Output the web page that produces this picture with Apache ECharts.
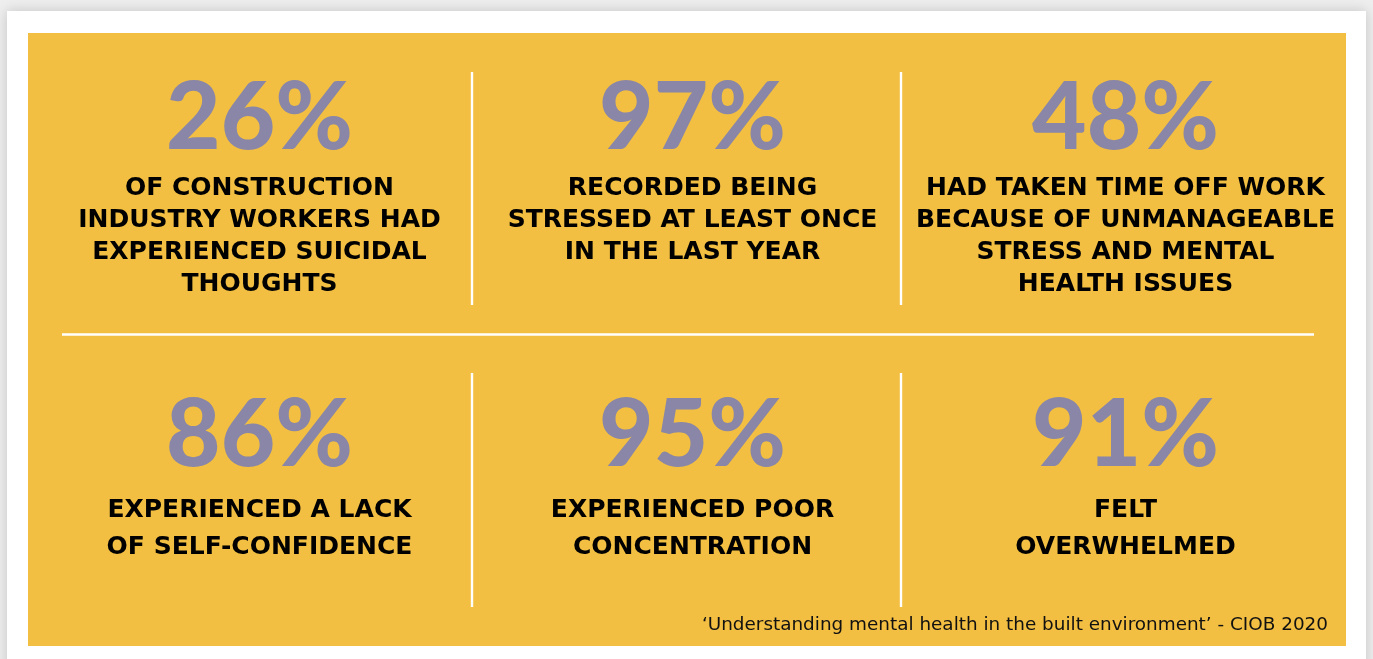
<!DOCTYPE html>
<html><head><meta charset="utf-8">
<script src="https://cdn.jsdelivr.net/npm/echarts@6/dist/echarts.min.js"></script>
<style>html,body{margin:0;padding:0;background:#eeeeee;}#c{width:1373px;height:659px;}</style>
</head><body><div id="c"></div>
<script>
// ---- data ----
const columns = ['left', 'middle', 'right'];
const values = [26, 97, 48, 86, 95, 91];
const valueColumn = [0, 1, 2, 0, 1, 2];
const valueRow = [0, 0, 0, 1, 1, 1];
const descriptions = [
  'OF CONSTRUCTION\nINDUSTRY WORKERS HAD\nEXPERIENCED SUICIDAL\nTHOUGHTS',
  'RECORDED BEING\nSTRESSED AT LEAST ONCE\nIN THE LAST YEAR',
  'HAD TAKEN TIME OFF WORK\nBECAUSE OF UNMANAGEABLE\nSTRESS AND MENTAL\nHEALTH ISSUES',
  'EXPERIENCED A LACK\nOF SELF-CONFIDENCE',
  'EXPERIENCED POOR\nCONCENTRATION',
  'FELT\nOVERWHELMED'
];
const sourceText = '\u2018Understanding mental health in the built environment\u2019 - CIOB 2020';

// ---- styles ----
const YELLOW = '#F2BF42';
const PURPLE = '#8986A7';
const rowStyle = [
  { lineHeight: 32, offsetY: 56 },
  { lineHeight: 37, offsetY: 58 }
];

const chart = echarts.init(document.getElementById('c'), null, { renderer: 'canvas' });

const numberData = values.map((v, i) => ({ value: [valueColumn[i], valueRow[i], v] }));
const descData = descriptions.map((d, i) => ({
  value: [valueColumn[i], valueRow[i], i],
  label: {
    lineHeight: rowStyle[valueRow[i]].lineHeight,
    offset: [0, rowStyle[valueRow[i]].offsetY]
  }
}));

const option = {
  backgroundColor: '#eeeeee',
  animation: false,
  grid: { left: 43, right: 31, top: 33, height: 612 },
  xAxis: { type: 'category', data: columns, show: false },
  yAxis: { type: 'value', min: -0.2633, max: 1.667, inverse: true, show: false },
  graphic: [
    { type: 'rect', z: 0, shape: { x: 7, y: 11, width: 1359, height: 660 },
      style: { fill: '#ffffff', shadowBlur: 12, shadowColor: 'rgba(0,0,0,0.18)' } },
    { type: 'rect', z: 1, shape: { x: 28, y: 33, width: 1318, height: 613 }, style: { fill: YELLOW } },
    { type: 'line', z: 2, shape: { x1: 472, y1: 72, x2: 472, y2: 305 }, style: { stroke: '#fff', lineWidth: 2.4 } },
    { type: 'line', z: 2, shape: { x1: 901, y1: 72, x2: 901, y2: 305 }, style: { stroke: '#fff', lineWidth: 2.4 } },
    { type: 'line', z: 2, shape: { x1: 62, y1: 334.5, x2: 1314, y2: 334.5 }, style: { stroke: '#fff', lineWidth: 2.4 } },
    { type: 'line', z: 2, shape: { x1: 472, y1: 373, x2: 472, y2: 607 }, style: { stroke: '#fff', lineWidth: 2.4 } },
    { type: 'line', z: 2, shape: { x1: 901, y1: 373, x2: 901, y2: 607 }, style: { stroke: '#fff', lineWidth: 2.4 } },
    { type: 'text', z: 3, x: 1328, y: 625,
      style: { text: sourceText, fill: '#111', font: '18.4px "DejaVu Sans"', textAlign: 'right', textVerticalAlign: 'middle' } }
  ],
  series: [
    {
      type: 'scatter', z: 10, silent: true, symbolSize: 1,
      itemStyle: { color: 'rgba(0,0,0,0)', opacity: 1 },
      data: numberData,
      label: {
        show: true, position: 'inside', align: 'center', verticalAlign: 'middle', opacity: 1,
        offset: [0, 2],
        formatter: p => p.value[2] + '%',
        fontFamily: 'Lato', fontWeight: 900, fontSize: 94, color: PURPLE
      }
    },
    {
      type: 'scatter', z: 10, silent: true, symbolSize: 1,
      itemStyle: { color: 'rgba(0,0,0,0)', opacity: 1 },
      data: descData,
      label: {
        show: true, position: 'inside', align: 'center', verticalAlign: 'top', opacity: 1,
        formatter: p => descriptions[p.value[2]],
        fontFamily: 'DejaVu Sans', fontWeight: 'bold', fontSize: 25, color: '#000000'
      }
    }
  ]
};
chart.setOption(option);
</script>
</body></html>
